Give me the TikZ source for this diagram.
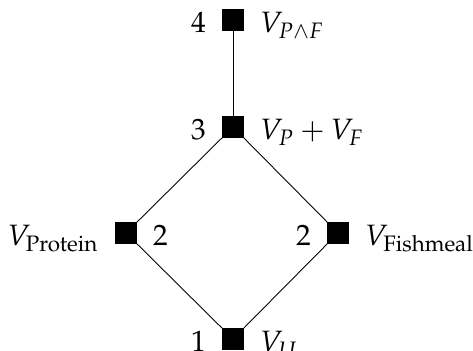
\documentclass[tikz,border=0pt]{standalone}
\usepackage{mathpazo}
\usetikzlibrary{positioning}
\tikzset{every picture/.style={line width=0.3pt}}
\tikzset{elem/.style={draw,fill=black,minimum size=7pt,inner sep=0pt},
  rank/.style={inner sep=0pt,anchor=base east},
  vlab/.style={inner sep=0pt,anchor=base west}}

\begin{document}
\begin{tikzpicture}[x=0.34pt,y=0.34pt,yscale=-1,xscale=1]
\useasboundingbox (0,0) rectangle (473,351);

%Elements
\node [elem] (top) at (233,20) {};
\node [elem] (sum) at (233,127) {};
\node [elem] (prot) at (126,233) {};
\node [elem] (fish) at (338,233) {};
\node [elem] (unit) at (233,339) {};

%Straight Lines
\draw (top) -- (sum);
\draw (sum) -- (prot);
\draw (sum) -- (fish);
\draw (prot) -- (unit);
\draw (fish) -- (unit);

% Text Node
\node [rank] (r4) at ([xshift=-5.4pt,yshift=0.7pt]top.south west) {$4$};
\node [vlab] (l4) at ([xshift=5.4pt,yshift=0.7pt]top.south east) {$V_{P\wedge F}$};
% Text Node
\node [rank] (r3) at ([xshift=-5.4pt,yshift=0.7pt]sum.south west) {$3$};
\node [vlab] (l3) at ([xshift=5.4pt,yshift=0.7pt]sum.south east) {$V_P+V_F$};
% Text Node
\node [vlab] (r2a) at ([xshift=5.4pt,yshift=0.7pt]prot.south east) {$2$};
\node [rank] (l2a) at ([xshift=-5.4pt,yshift=0.7pt]prot.south west) {$V_{\mathrm{Protein}}$};
% Text Node
\node [rank] (r2b) at ([xshift=-5.4pt,yshift=0.7pt]fish.south west) {$2$};
\node [vlab] (l2b) at ([xshift=5.4pt,yshift=0.7pt]fish.south east) {$V_{\mathrm{Fishmeal}}$};
% Text Node
\node [rank] (r1) at ([xshift=-5.4pt,yshift=0.7pt]unit.south west) {$1$};
\node [vlab] (l1) at ([xshift=5.4pt,yshift=0.7pt]unit.south east) {$V_U$};

\end{tikzpicture}
\end{document}
